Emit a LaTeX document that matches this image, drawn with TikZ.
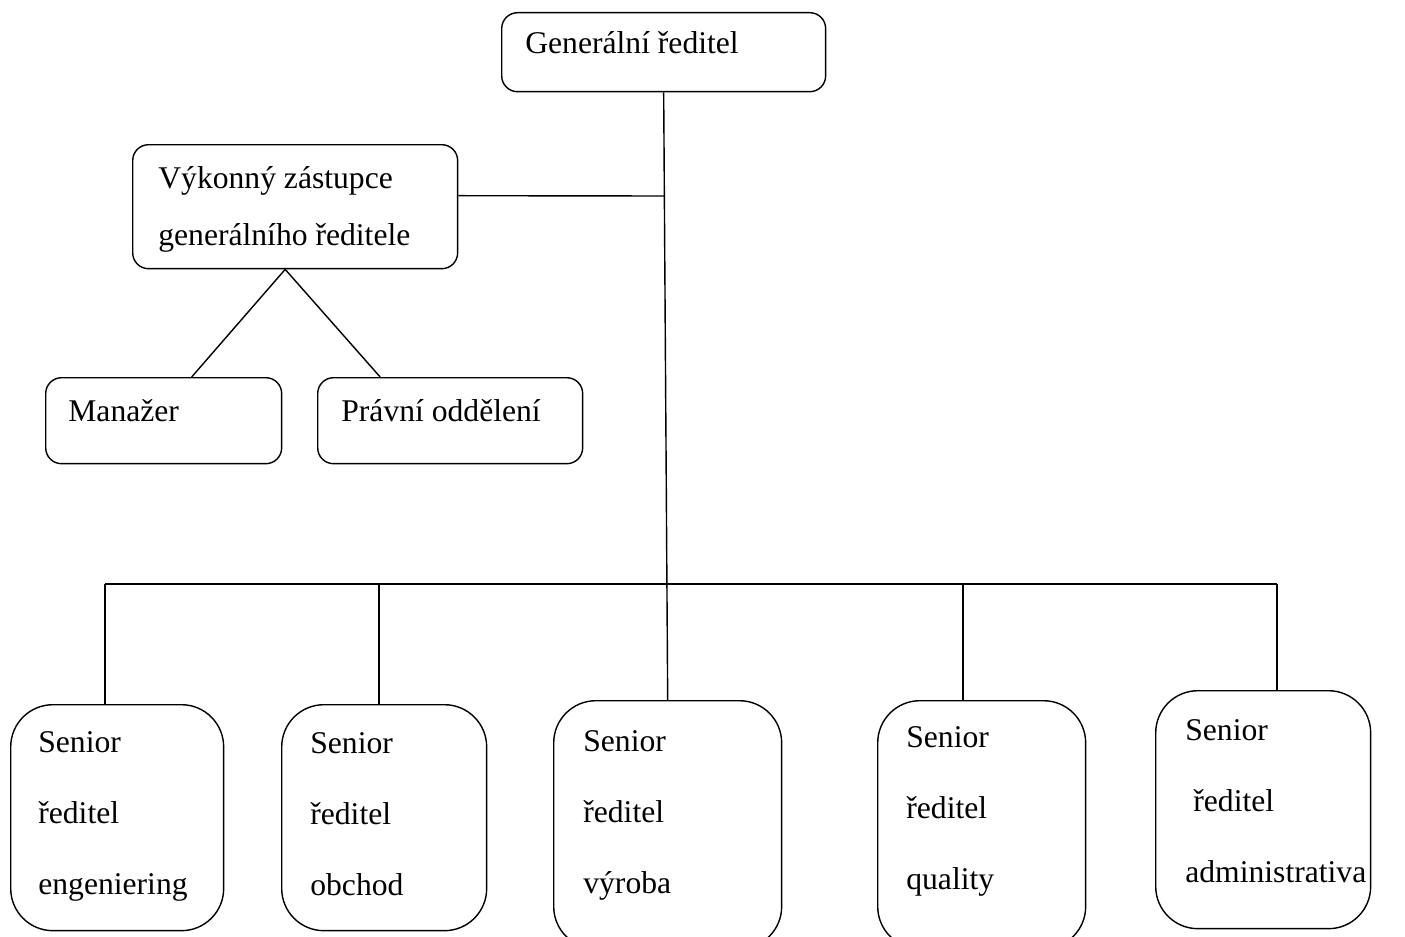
\documentclass[tikz,border=0pt]{standalone}
\usepackage{fontspec}
\setmainfont{Liberation Serif}
\usetikzlibrary{calc,positioning}
\tikzset{
	orgbox/.style={draw, line width=0.8pt, rounded corners=#1, anchor=north west, inner sep=0pt},
	orgbox/.default=9pt,
	orgtxt/.style={anchor=base west, inner sep=0pt, font=\fontsize{18}{20}\selectfont},
	orgline/.style={line width=0.8pt},
}
\begin{document}
\begin{tikzpicture}[x=0.02cm, y=-0.02cm]
	\useasboundingbox (0,0) rectangle (1405,936);
	\clip (0,0) rectangle (1405,936);
	\fill [white] (0,0) rectangle (1405,936);
	% upper part
	\node [orgbox, minimum width=6.48cm, minimum height=1.58cm] (gen) at (501,12) {};
	\node [orgbox, minimum width=6.5cm, minimum height=2.48cm] (vyk) at (132,144) {};
	\node [orgbox, minimum width=4.72cm, minimum height=1.72cm] (man) at (45,377) {};
	\node [orgbox, minimum width=5.3cm, minimum height=1.72cm] (prav) at (317,377) {};
	\node [orgtxt] (gent) at (525,54) {Generální ředitel};
	\node [orgtxt] (vykta) at (158,188) {Výkonný zástupce};
	\node [orgtxt] (vyktb) at (158,245) {generálního ředitele};
	\node [orgtxt] (mant) at (68,421) {Manažer};
	\node [orgtxt] (pravt) at (341,421) {Právní oddělení};
	% senior boxes
	\node [orgbox=24pt, minimum width=4.26cm, minimum height=4.52cm] (s1) at (10,704) {};
	\node [orgbox=24pt, minimum width=4.1cm, minimum height=4.52cm] (s2) at (281,704) {};
	\node [orgbox=24pt, minimum width=4.56cm, minimum height=4.96cm] (s3) at (553,700) {};
	\node [orgbox=24pt, minimum width=4.16cm, minimum height=4.96cm] (s4) at (877,700) {};
	\node [orgbox=24pt, minimum width=4.3cm, minimum height=4.76cm] (s5) at (1155,690) {};
	\foreach \n/\x/\d/\y/\dep in {1/38/0/752/engeniering, 2/310/0/753/obchod, 3/583/0/751/výroba, 4/906/0/747/quality, 5/1185/8/740/administrativa} {
		\node [orgtxt] (t\n a) at (\x,\y) {Senior};
		\node [orgtxt] (t\n b) at (\x+\d,\y+71) {ředitel};
		\node [orgtxt] (t\n c) at (\x,\y+142) {\dep};
	}
	% connectors
	\coordinate (j1) at (664,196);
	\coordinate (bL) at (105,584);
	\coordinate (b2) at (379,584);
	\coordinate (b4) at (963,584);
	\coordinate (bR) at (1277,584);
	\draw [orgline] (gen.south) -- (s3.north);
	\draw [orgline] ($(vyk.east)+(0,-11)$) -- (j1);
	\draw [orgline] ($(vyk.south)+(-10,0)$) -- ($(man.north)+(28,0)$);
	\draw [orgline] ($(vyk.south)+(-10,0)$) -- ($(prav.north)+(-70,0)$);
	\draw [orgline] (bL) -- (bR);
	\draw [orgline] (bL) -- (bL |- s1.north);
	\draw [orgline] (b2) -- (b2 |- s2.north);
	\draw [orgline] (b4) -- (b4 |- s4.north);
	\draw [orgline] (bR) -- (bR |- s5.north);
\end{tikzpicture}
\end{document}
